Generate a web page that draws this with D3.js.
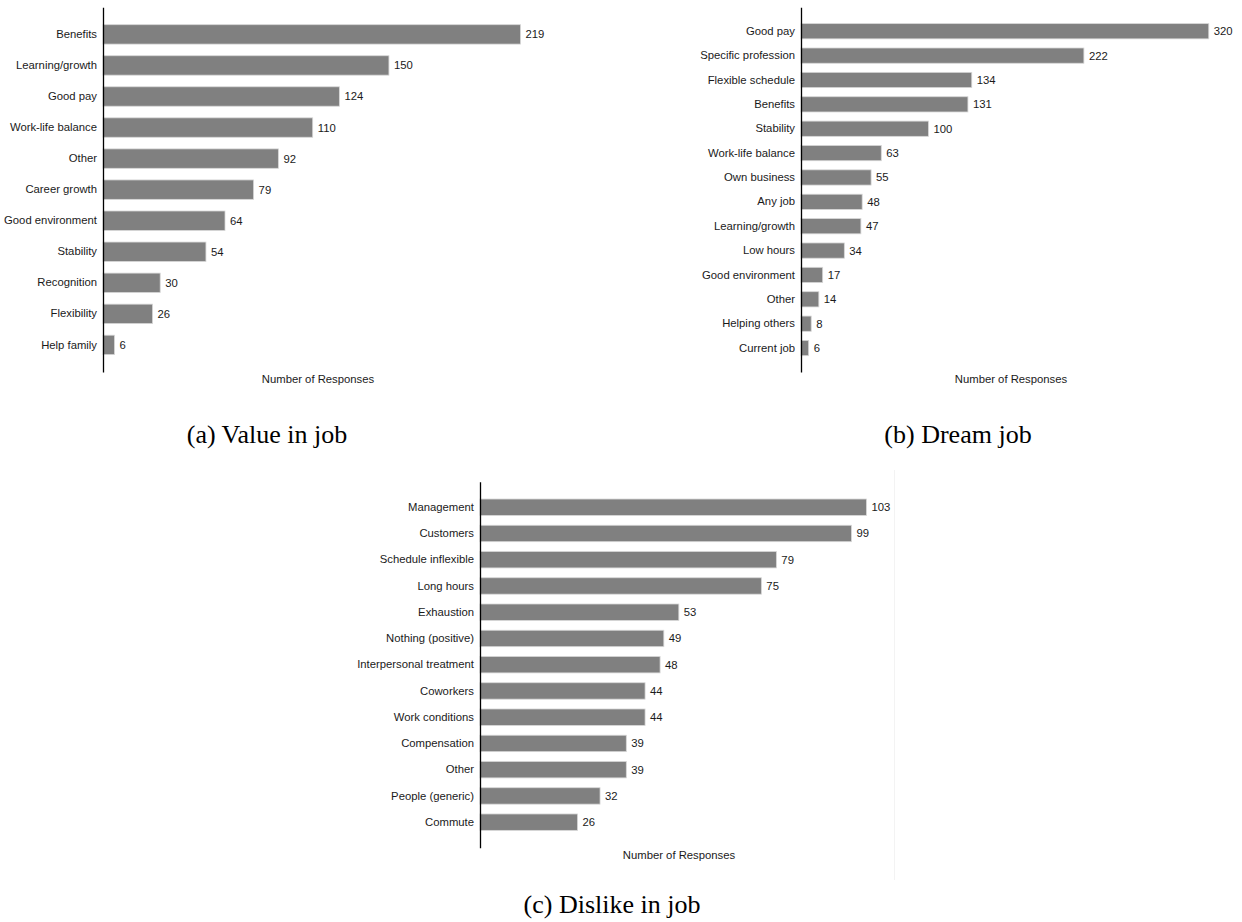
<!DOCTYPE html>
<html>
<head>
<meta charset="utf-8">
<script src="https://cdn.jsdelivr.net/npm/d3@7"></script>
<style>
  html, body { margin: 0; padding: 0; background: #fff; }
  svg { display: block; }
</style>
</head>
<body>
<svg id="chart" width="1242" height="922"></svg>
<script>
// ---- Data ----
const valueCategories = ["Benefits", "Learning/growth", "Good pay", "Work-life balance", "Other", "Career growth", "Good environment", "Stability", "Recognition", "Flexibility", "Help family"];
const valueCounts = [219, 150, 124, 110, 92, 79, 64, 54, 30, 26, 6];

const dreamCategories = ["Good pay", "Specific profession", "Flexible schedule", "Benefits", "Stability", "Work-life balance", "Own business", "Any job", "Learning/growth", "Low hours", "Good environment", "Other", "Helping others", "Current job"];
const dreamCounts = [320, 222, 134, 131, 100, 63, 55, 48, 47, 34, 17, 14, 8, 6];

const dislikeCategories = ["Management", "Customers", "Schedule inflexible", "Long hours", "Exhaustion", "Nothing (positive)", "Interpersonal treatment", "Coworkers", "Work conditions", "Compensation", "Other", "People (generic)", "Commute"];
const dislikeCounts = [103, 99, 79, 75, 53, 49, 48, 44, 44, 39, 39, 32, 26];

const axisTitle = "Number of Responses";
const captions = ["(a) Value in job", "(b) Dream job", "(c) Dislike in job"];

// ---- Layout ----
const svg = d3.select("#chart");
const sans = "'Liberation Sans', Arial, Helvetica, sans-serif";
const serif = "'Liberation Serif', 'Times New Roman', serif";
const fs = 11.3;

const panels = [
  { cats: valueCategories, vals: valueCounts, x0: 103, x1: 533, y0: 7.3, y1: 372, po: 0.56, titleY: 383, cap: captions[0], capX: 267, capY: 443 },
  { cats: dreamCategories, vals: dreamCounts, x0: 801, x1: 1221, y0: 7.3, y1: 372, po: 0.67, titleY: 383, cap: captions[1], capX: 958, capY: 443 },
  { cats: dislikeCategories, vals: dislikeCounts, x0: 480, x1: 878, y0: 481.7, y1: 847.7, po: 0.66, titleY: 858.5, cap: captions[2], capX: 612, capY: 913 }
];

// faint frame line seen at the right of panel (c)
svg.append("line")
  .attr("x1", 894.5).attr("x2", 894.5).attr("y1", 470).attr("y2", 880)
  .attr("stroke", "#f3f3f3").attr("stroke-width", 1);

panels.forEach(p => {
  const g = svg.append("g");
  const maxV = d3.max(p.vals);
  const x = d3.scaleLinear().domain([0, maxV * 1.03]).range([p.x0, p.x1]);
  const y = d3.scaleBand().domain(p.cats).range([p.y0, p.y1])
    .paddingInner(0.375).paddingOuter(p.po);

  const data = p.cats.map((c, i) => ({ c, v: p.vals[i] }));

  // bars
  g.selectAll("rect.bar").data(data).enter().append("rect")
    .attr("class", "bar")
    .attr("x", x(0))
    .attr("y", d => y(d.c))
    .attr("width", d => x(d.v) - x(0))
    .attr("height", y.bandwidth())
    .attr("fill", "#808080")
    .attr("stroke", "#d6d6d6")
    .attr("stroke-width", 0.8);

  // value labels
  g.selectAll("text.val").data(data).enter().append("text")
    .attr("class", "val")
    .attr("x", d => x(d.v) + 5)
    .attr("y", d => y(d.c) + y.bandwidth() / 2)
    .attr("dy", "0.35em")
    .attr("font-family", sans)
    .attr("font-size", fs)
    .attr("fill", "#1a1a1a")
    .text(d => d.v);

  // y axis (categories) using d3 axis
  const yAxis = d3.axisLeft(y).tickSize(0).tickPadding(6);
  const ax = g.append("g")
    .attr("transform", `translate(${x(0)},0)`)
    .call(yAxis);
  ax.select(".domain").attr("stroke", "#000").attr("stroke-width", 1.3);
  ax.selectAll("text")
    .attr("font-family", sans)
    .attr("font-size", fs)
    .attr("fill", "#1a1a1a");

  // axis title
  g.append("text")
    .attr("x", (p.x0 + p.x1) / 2)
    .attr("y", p.titleY)
    .attr("text-anchor", "middle")
    .attr("font-family", sans)
    .attr("font-size", fs)
    .attr("fill", "#1a1a1a")
    .text(axisTitle);

  // caption
  svg.append("text")
    .attr("x", p.capX)
    .attr("y", p.capY)
    .attr("text-anchor", "middle")
    .attr("font-family", serif)
    .attr("font-size", 26)
    .attr("fill", "#000")
    .text(p.cap);
});
</script>
</body>
</html>
